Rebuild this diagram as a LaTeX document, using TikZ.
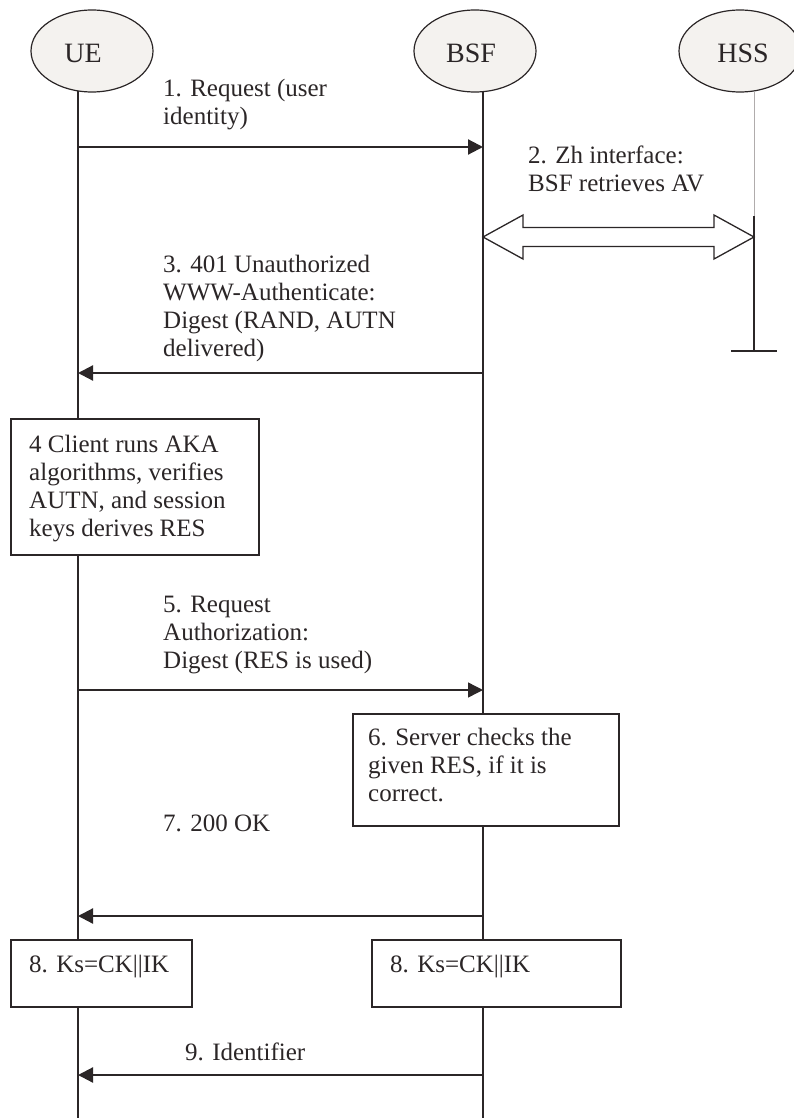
\documentclass[tikz,border=0pt]{standalone}
\usepackage{fontspec}
\setmainfont{Liberation Serif}
\usetikzlibrary{arrows.meta,shapes.geometric}
\definecolor{ink}{HTML}{2B2627}
\definecolor{ellfill}{HTML}{F4F2EF}
\definecolor{faint}{HTML}{B0ACAC}
\begin{document}
\begin{tikzpicture}[x=1pt,y=-1pt,
  font=\fontsize{25}{28}\selectfont,
  every node/.style={text=ink},
  actor/.style={draw=ink, line width=1.2pt, fill=ellfill, ellipse, minimum width=122pt, minimum height=82pt, inner sep=0pt},
  actorname/.style={font=\fontsize{28}{32}\selectfont},
  life/.style={draw=ink, line width=1.5pt},
  msg/.style={draw=ink, line width=2.2pt, -{Triangle[length=15pt,width=15pt]}},
  lbl/.style={anchor=base west, align=left, inner sep=0pt},
  stepbox/.style={draw=ink, line width=1.5pt, fill=white}]
\path[use as bounding box] (0,0) rectangle (794,1118);

% actors
\node[actor, label={[actorname,xshift=-9pt,yshift=-2pt]center:UE}] (ue) at (92,51) {};
\node[actor, label={[actorname,xshift=-4pt,yshift=-2pt]center:BSF}] (bsf) at (475,51) {};
\node[actor, label={[actorname,xshift=3pt,yshift=-2pt]center:HSS}] (hss) at (740,51) {};

% lifeline coordinates
\coordinate (ueT) at (78,91);   \coordinate (ueB) at (78,1118);
\coordinate (bsfT) at (483,91); \coordinate (bsfB) at (483,1118);
\coordinate (hssT) at (754,92); \coordinate (hssM) at (754,216); \coordinate (hssB) at (754,351);
\coordinate (teeL) at (731,351); \coordinate (teeR) at (777,351);

\draw[life] (ueT) -- (ueB);
\draw[life] (bsfT) -- (bsfB);
\draw[faint, line width=0.6pt] (hssT) -- (hssM);
\draw[life] (hssM) -- (hssB);
\draw[life] (teeL) -- (teeR);

% 1 (base anchor = baseline of the last line)
\coordinate (m1a) at (78,147); \coordinate (m1b) at (483,147);
\draw[msg] (m1a) -- (m1b);
\node[lbl] (l1) at (163,125) {1. Request (user\\identity)};

% 2
\node[lbl] (l2) at (528,191) {2. Zh interface:\\BSF retrieves AV};
\coordinate (zhL) at (483,237); \coordinate (zhR) at (754,237);
\draw[ink, line width=1.3pt, fill=white, line join=miter]
  (zhL) -- ++(40,-22) -- ++(0,12.5) -- ++(191,0) -- ++(0,-12.5) -- (zhR)
  -- ++(-40,22) -- ++(0,-12.5) -- ++(-191,0) -- ++(0,12.5) -- cycle;

% 3
\node[lbl] (l3) at (163,356) {3. 401 Unauthorized\\WWW-Authenticate:\\Digest (RAND, AUTN\\delivered)};
\coordinate (m3b) at (483,373); \coordinate (m3a) at (78,373);
\draw[msg] (m3b) -- (m3a);

% 4
\node[stepbox, minimum width=248pt, minimum height=136pt, anchor=north west] (b4) at (10,418) {};
\node[lbl] (t4) at (29,536) {4 Client runs AKA\\algorithms, verifies\\AUTN, and session\\keys derives RES};

% 5
\node[lbl] (l5) at (163,668) {5. Request\\Authorization:\\Digest (RES is used)};
\coordinate (m5a) at (78,690); \coordinate (m5b) at (483,690);
\coordinate (m5c) at (145,690); \coordinate (m5d) at (393,690);
\draw[draw=ink, line width=1.4pt, -{Triangle[length=15pt,width=15pt]}] (m5a) -- (m5b);
\draw[draw=ink, line width=2.2pt] (m5a) -- (m5c);
\draw[draw=ink, line width=2.2pt] (m5d) -- ++(75,0);

% 6
\node[stepbox, minimum width=266pt, minimum height=112pt, anchor=north west] (b6) at (352,713) {};
\node[lbl] (t6) at (368,801) {6. Server checks the\\given RES, if it is\\correct.};

% 7
\node[lbl] (l7) at (163,831) {7. 200 OK};
\coordinate (m7b) at (483,916); \coordinate (m7a) at (78,916);
\draw[msg] (m7b) -- (m7a);

% 8
\node[stepbox, minimum width=181pt, minimum height=67pt, anchor=north west] (b8a) at (10,939) {};
\node[lbl] (t8a) at (29,972) {8. Ks=CK||IK};
\node[stepbox, minimum width=249pt, minimum height=67pt, anchor=north west] (b8b) at (371,939) {};
\node[lbl] (t8b) at (390,972) {8. Ks=CK||IK};

% 9
\node[lbl] (l9) at (185,1060) {9. Identifier};
\coordinate (m9b) at (483,1075); \coordinate (m9a) at (78,1075);
\draw[msg] (m9b) -- (m9a);
\end{tikzpicture}
\end{document}
